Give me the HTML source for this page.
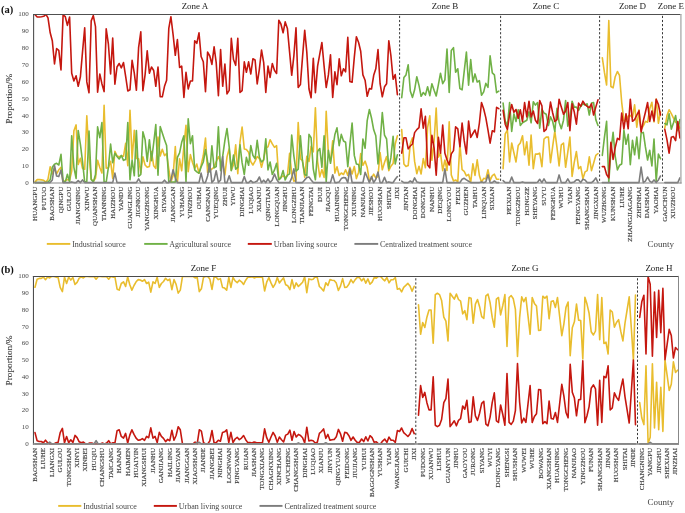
<!DOCTYPE html>
<html><head><meta charset="utf-8"><title>chart</title>
<style>html,body{margin:0;padding:0;background:#fff}body{width:685px;height:513px;overflow:hidden;font-family:"Liberation Serif",serif}</style></head>
<body>
<svg width="685" height="513" viewBox="0 0 685 513" style="display:block;will-change:transform" font-family="'Liberation Serif', serif">
<rect width="685" height="513" fill="#fff"/>
<clipPath id="cpa"><rect x="33.0" y="14.00" width="649.0" height="171.6"/></clipPath>
<g fill="none" stroke-width="1.6" stroke-linejoin="round" stroke-linecap="round" clip-path="url(#cpa)">
<polyline stroke="#E9BD2E" points="35.1,181.9 37.2,179.6 39.4,179.6 41.5,179.9 43.7,180.3 45.9,182.2 48.0,179.2 50.2,166.7 52.3,173.9 54.5,168.1 56.6,173.9 58.8,169.8 61.0,167.3 63.1,182.3 65.3,180.5 67.4,179.6 69.6,180.1 71.7,171.0 73.9,130.7 76.1,124.9 78.2,164.4 80.4,158.3 82.5,168.4 84.7,169.2 86.8,115.8 89.0,155.3 91.2,178.9 93.3,181.5 95.5,178.1 97.6,160.2 99.8,167.5 101.9,173.0 104.1,105.2 106.2,168.2 108.4,167.8 110.6,161.2 112.7,178.5 114.9,151.3 117.0,155.9 119.2,156.8 121.3,155.9 123.5,156.3 125.7,143.2 127.8,165.6 130.0,110.3 132.1,158.9 134.3,130.3 136.4,158.4 138.6,158.7 140.8,172.8 142.9,156.8 145.1,165.0 147.2,167.2 149.4,166.4 151.5,151.5 153.7,165.8 155.8,168.4 158.0,137.1 160.2,155.9 162.3,149.3 164.5,155.6 166.6,153.5 168.8,169.1 170.9,182.3 173.1,175.4 175.3,146.5 177.4,182.3 179.6,158.9 181.7,170.8 183.9,146.1 186.0,125.2 188.2,171.7 190.4,154.6 192.5,162.5 194.7,168.7 196.8,164.1 199.0,173.3 201.1,165.3 203.3,155.5 205.5,138.1 207.6,172.4 209.8,170.5 211.9,169.0 214.1,167.1 216.2,161.8 218.4,156.7 220.6,161.8 222.7,162.8 224.9,174.9 227.0,156.9 229.2,148.8 231.3,170.3 233.5,164.7 235.7,144.8 237.8,173.6 240.0,141.9 242.1,127.0 244.3,148.9 246.4,149.6 248.6,152.2 250.8,161.6 252.9,165.0 255.1,161.2 257.2,156.5 259.4,158.6 261.5,167.2 263.7,158.9 265.8,148.0 268.0,146.9 270.1,139.7 272.3,143.9 274.5,147.4 276.6,145.7 278.8,179.3 280.9,177.4 283.1,175.9 285.2,177.3 287.4,175.7 289.6,153.3 291.7,173.5 293.9,181.3 296.0,180.1 298.2,122.5 300.4,158.9 302.5,160.5 304.7,177.2 306.8,156.3 309.0,161.4 311.1,146.4 313.3,151.8 315.4,107.9 317.6,161.6 319.8,176.9 321.9,169.5 324.1,177.4 326.2,111.3 328.4,154.2 330.5,161.2 332.7,140.9 334.9,173.1 337.0,166.8 339.2,175.5 341.3,173.0 343.5,174.5 345.6,169.8 347.8,175.4 349.9,167.2 352.1,174.0 354.3,166.4 356.4,178.6 358.6,172.2 360.7,153.5 362.9,165.3 365.1,161.1 367.2,167.6 369.4,181.2 371.5,178.2 373.7,174.2 375.8,178.0 378.0,176.3 380.1,152.6 382.3,169.8 384.5,162.6 386.6,156.5 388.8,170.6 390.9,166.2 393.1,163.6 395.2,144.0 397.4,135.8"/>
<polyline stroke="#E9BD2E" points="401.7,129.6 403.9,163.9 406.0,166.5 408.2,165.6 410.3,143.8 412.5,137.9 414.6,161.4 416.8,173.7 419.0,166.2 421.1,174.0 423.3,158.6 425.4,167.7 427.6,127.4 429.8,115.8 431.9,160.3 434.1,140.9 436.2,108.1 438.4,157.2 440.5,152.9 442.7,170.6 444.9,160.0 447.0,170.5 449.2,121.8 451.3,175.0 453.5,180.9 455.6,180.0 457.8,181.6 459.9,144.0 462.1,169.7 464.2,171.3 466.4,175.9 468.6,174.4 470.7,182.3 472.9,163.7 475.0,175.4 477.2,159.8 479.4,175.5 481.5,182.2 483.7,178.3 485.8,179.0 488.0,169.8 490.1,180.3 492.3,175.7 494.4,174.2 496.6,179.3 498.8,179.3"/>
<polyline stroke="#E9BD2E" points="503.1,168.6 505.2,133.8 507.4,130.1 509.6,162.0 511.7,143.0 513.9,152.8 516.0,162.0 518.2,145.6 520.3,143.0 522.5,135.7 524.6,154.8 526.8,141.7 529.0,165.3 531.1,135.1 533.3,168.6 535.4,154.1 537.6,154.1 539.7,153.2 541.9,166.6 544.0,139.0 546.2,137.1 548.4,137.1 550.5,162.7 552.7,146.2 554.8,131.1 557.0,147.6 559.1,166.0 561.3,144.9 563.5,143.0 565.6,167.3 567.8,152.2 569.9,137.1 572.1,176.5 574.2,162.7 576.4,151.5 578.6,168.6 580.7,166.6 582.9,178.7 585.0,171.9 587.2,170.6 589.3,156.8 591.5,170.6 593.6,163.3 595.8,155.4 598.0,153.5"/>
<polyline stroke="#E9BD2E" points="602.3,57.7 604.4,72.2 606.6,85.0 608.8,20.6 610.9,86.5 613.1,87.8 615.2,76.7 617.4,71.5 619.5,75.4 621.7,102.3 623.9,120.4 626.0,121.3 628.2,116.1 630.3,115.4 632.5,117.6 634.6,104.9 636.8,127.2 639.0,109.8 641.1,129.6 643.3,125.9 645.4,121.3 647.6,122.2 649.7,108.8 651.9,102.3 654.0,122.0 656.2,99.0 658.4,123.3 660.5,112.1"/>
<polyline stroke="#E9BD2E" points="664.8,128.1 667.0,115.6 669.1,109.7 671.3,113.7 673.5,118.2 675.6,122.2 677.8,123.5 679.9,128.1"/>
<polyline stroke="#70B146" points="35.1,182.6 37.2,182.6 39.4,182.6 41.5,182.6 43.7,182.6 45.9,182.6 48.0,182.1 50.2,179.8 52.3,167.3 54.5,164.2 56.6,163.3 58.8,165.0 61.0,154.4 63.1,181.3 65.3,182.1 67.4,174.2 69.6,182.1 71.7,135.7 73.9,167.3 76.1,178.4 78.2,130.5 80.4,144.3 82.5,161.4 84.7,182.1 86.8,181.5 89.0,131.1 91.2,179.5 93.3,182.1 95.5,174.5 97.6,126.9 99.8,137.7 101.9,122.6 104.1,182.1 106.2,182.1 108.4,167.3 110.6,144.0 112.7,162.7 114.9,153.2 117.0,156.4 119.2,159.0 121.3,155.4 123.5,160.3 125.7,159.4 127.8,122.6 130.0,179.8 132.1,160.0 134.3,175.8 136.4,130.5 138.6,176.5 140.8,174.5 142.9,131.8 145.1,139.7 147.2,161.4 149.4,139.7 151.5,160.7 153.7,143.0 155.8,124.6 158.0,175.2 160.2,126.5 162.3,133.1 164.5,139.7 166.6,145.6 168.8,181.7 170.9,182.1 173.1,182.1 175.3,182.1 177.4,157.4 179.6,152.8 181.7,142.3 183.9,135.7 186.0,181.7 188.2,118.7 190.4,143.6 192.5,135.7 194.7,169.9 196.8,171.9 199.0,173.2 201.1,166.9 203.3,162.0 205.5,149.5 207.6,161.4 209.8,171.9 211.9,145.8 214.1,167.9 216.2,166.6 218.4,126.9 220.6,170.6 222.7,156.1 224.9,140.3 227.0,128.5 229.2,146.9 231.3,170.6 233.5,155.1 235.7,169.2 237.8,167.3 240.0,144.9 242.1,162.7 244.3,174.5 246.4,157.4 248.6,165.3 250.8,145.6 252.9,155.4 255.1,158.7 257.2,140.3 259.4,157.4 261.5,162.0 263.7,160.0 265.8,138.8 268.0,169.9 270.1,162.0 272.3,174.5 274.5,169.9 276.6,163.3 278.8,179.8 280.9,177.8 283.1,170.6 285.2,180.0 287.4,175.2 289.6,173.8 291.7,135.1 293.9,156.1 296.0,171.2 298.2,169.2 300.4,135.7 302.5,161.4 304.7,174.5 306.8,175.8 309.0,134.4 311.1,137.7 313.3,169.2 315.4,179.8 317.6,151.5 319.8,148.5 321.9,167.3 324.1,135.7 326.2,181.7 328.4,150.2 330.5,163.3 332.7,148.9 334.9,134.4 337.0,127.8 339.2,145.6 341.3,134.4 343.5,141.0 345.6,142.3 347.8,166.6 349.9,144.3 352.1,123.0 354.3,155.4 356.4,164.0 358.6,164.6 360.7,174.5 362.9,139.0 365.1,148.2 367.2,120.6 369.4,109.5 371.5,118.0 373.7,129.8 375.8,135.7 378.0,164.0 380.1,143.0 382.3,112.6 384.5,135.1 386.6,139.0 388.8,168.6 390.9,157.4 393.1,136.4 395.2,164.0 397.4,154.8"/>
<polyline stroke="#70B146" points="401.7,97.7 403.9,77.5 406.0,74.9 408.2,64.7 410.3,91.0 412.5,97.4 414.6,89.8 416.8,76.7 419.0,85.4 421.1,96.3 423.3,92.5 425.4,95.1 427.6,86.8 429.8,95.6 431.9,83.7 434.1,90.3 436.2,96.0 438.4,84.6 440.5,73.2 442.7,83.7 444.9,79.8 447.0,49.0 449.2,92.5 451.3,50.4 453.5,47.7 455.6,72.3 457.8,68.8 459.9,88.6 462.1,89.8 464.2,71.4 466.4,52.1 468.6,85.1 470.7,59.5 472.9,82.0 475.0,73.9 477.2,82.0 479.4,80.7 481.5,95.2 483.7,91.9 485.8,83.4 488.0,87.3 490.1,55.8 492.3,72.8 494.4,74.8 496.6,92.6 498.8,91.2"/>
<polyline stroke="#70B146" points="503.1,103.1 505.2,120.9 507.4,126.1 509.6,102.5 511.7,131.4 513.9,113.7 516.0,121.5 518.2,109.7 520.3,125.5 522.5,122.8 524.6,121.5 526.8,120.2 529.0,111.7 531.1,122.8 533.3,101.8 535.4,105.1 537.6,102.5 539.7,128.1 541.9,109.0 544.0,113.0 546.2,114.3 548.4,125.5 550.5,116.9 552.7,121.5 554.8,131.4 557.0,108.4 559.1,122.2 561.3,128.8 563.5,120.2 565.6,100.5 567.8,126.1 569.9,118.2 572.1,101.2 574.2,107.1 576.4,107.1 578.6,110.4 580.7,106.4 582.9,103.8 585.0,105.1 587.2,103.8 589.3,115.0 591.5,103.1 593.6,102.5 595.8,119.6 598.0,125.5"/>
<polyline stroke="#70B146" points="602.3,155.4 604.4,137.7 606.6,121.3 608.8,182.4 610.9,150.8 613.1,132.4 615.2,156.1 617.4,169.9 619.5,165.3 621.7,164.0 623.9,130.1 626.0,144.3 628.2,134.4 630.3,164.6 632.5,140.3 634.6,154.8 636.8,137.1 639.0,158.7 641.1,133.1 643.3,132.4 645.4,146.9 647.6,160.0 649.7,150.2 651.9,166.0 654.0,139.0 656.2,181.1 658.4,154.1 660.5,158.7"/>
<polyline stroke="#70B146" points="664.8,123.5 667.0,124.8 669.1,113.7 671.3,129.2 673.5,122.8 675.6,115.6 677.8,130.7 679.9,119.6"/>
<polyline stroke="#C5170F" points="35.1,14.7 37.2,17.0 39.4,17.0 41.5,16.7 43.7,16.3 45.9,14.4 48.0,17.9 50.2,32.8 52.3,40.7 54.5,64.0 56.6,48.6 58.8,50.4 61.0,70.0 63.1,14.9 65.3,16.7 67.4,25.4 69.6,17.0 71.7,73.2 73.9,81.0 76.1,75.8 78.2,86.3 80.4,76.7 82.5,52.1 84.7,27.9 86.8,81.9 89.0,92.8 91.2,20.9 93.3,15.6 95.5,26.7 97.6,92.1 99.8,74.0 101.9,83.7 104.1,91.6 106.2,28.9 108.4,44.2 110.6,74.0 112.7,38.1 114.9,84.2 117.0,67.0 119.2,63.5 121.3,67.9 123.5,62.6 125.7,76.7 127.8,91.0 130.0,89.8 132.1,60.4 134.3,73.2 136.4,90.3 138.6,47.7 140.8,31.9 142.9,90.7 145.1,74.6 147.2,50.7 149.4,73.2 151.5,67.0 153.7,70.5 155.8,86.3 158.0,67.0 160.2,96.8 162.3,96.8 164.5,86.3 166.6,80.2 168.8,28.4 170.9,16.7 173.1,34.6 175.3,55.3 177.4,39.5 179.6,67.5 181.7,66.1 183.9,97.4 186.0,72.3 188.2,89.0 190.4,81.0 192.5,81.0 194.7,40.7 196.8,43.3 199.0,32.8 201.1,56.5 203.3,61.8 205.5,91.6 207.6,52.1 209.8,56.0 211.9,64.4 214.1,46.8 216.2,62.6 218.4,95.6 220.6,49.5 222.7,86.3 224.9,64.0 227.0,93.9 229.2,90.3 231.3,38.4 233.5,59.5 235.7,65.3 237.8,38.4 240.0,92.5 242.1,90.7 244.3,61.8 246.4,72.3 248.6,61.8 250.8,74.0 252.9,58.8 255.1,60.0 257.2,84.0 259.4,68.8 261.5,50.0 263.7,62.6 265.8,92.5 268.0,66.1 270.1,77.5 272.3,63.5 274.5,70.5 276.6,73.5 278.8,20.2 280.9,24.0 283.1,32.8 285.2,21.9 287.4,28.4 289.6,52.1 291.7,75.3 293.9,55.6 296.0,27.9 298.2,87.5 300.4,84.6 302.5,57.4 304.7,30.2 306.8,52.1 309.0,89.0 311.1,97.7 313.3,58.2 315.4,92.8 317.6,66.1 319.8,53.9 321.9,42.5 324.1,66.1 326.2,87.5 328.4,74.9 330.5,54.7 332.7,97.4 334.9,71.8 337.0,84.6 339.2,58.8 341.3,75.8 343.5,68.8 345.6,71.8 347.8,37.2 349.9,81.6 352.1,82.3 354.3,57.4 356.4,36.7 358.6,42.5 360.7,51.2 362.9,74.9 365.1,80.2 367.2,96.3 369.4,88.6 371.5,89.0 373.7,75.3 375.8,68.8 378.0,49.5 380.1,83.7 382.3,96.8 384.5,86.8 386.6,83.7 388.8,40.7 390.9,55.6 393.1,79.3 395.2,74.6 397.4,94.6"/>
<polyline stroke="#C5170F" points="401.7,153.2 403.9,137.8 406.0,137.8 408.2,148.9 410.3,146.0 412.5,144.0 414.6,132.6 416.8,129.6 419.0,127.6 421.1,108.9 423.3,128.2 425.4,116.4 427.6,165.0 429.8,167.8 431.9,135.2 434.1,148.0 436.2,175.2 438.4,137.4 440.5,153.2 442.7,125.0 444.9,153.2 447.0,159.8 449.2,165.0 451.3,153.9 453.5,150.6 455.6,126.9 457.8,128.9 459.9,146.6 462.1,123.0 464.2,140.7 466.4,153.9 468.6,121.0 470.7,137.4 472.9,133.5 475.0,130.0 477.2,137.4 479.4,123.0 481.5,102.5 483.7,109.0 485.8,117.6 488.0,130.1 490.1,143.2 492.3,130.7 494.4,131.8 496.6,107.3 498.8,108.7"/>
<polyline stroke="#C5170F" points="503.1,110.4 505.2,124.2 507.4,129.4 509.6,114.3 511.7,104.5 513.9,112.3 516.0,109.5 518.2,118.2 520.3,109.7 522.5,121.5 524.6,102.5 526.8,116.9 529.0,101.2 531.1,116.9 533.3,111.0 535.4,120.2 537.6,123.5 539.7,100.5 541.9,105.8 544.0,131.4 546.2,129.4 548.4,118.2 550.5,102.1 552.7,113.0 554.8,121.5 557.0,119.6 559.1,99.2 561.3,107.1 563.5,114.3 565.6,111.0 567.8,102.5 569.9,130.7 572.1,103.8 574.2,111.7 576.4,124.2 578.6,103.1 580.7,106.4 582.9,101.2 585.0,104.5 587.2,106.4 589.3,107.7 591.5,103.8 593.6,115.0 595.8,107.1 598.0,99.8"/>
<polyline stroke="#C5170F" points="602.3,166.6 604.4,166.6 606.6,174.5 608.8,177.8 610.9,142.3 613.1,159.4 615.2,147.6 617.4,138.4 619.5,139.7 621.7,113.0 623.9,128.8 626.0,113.7 628.2,128.8 630.3,99.2 632.5,121.3 634.6,119.6 636.8,115.0 639.0,110.8 641.1,132.0 643.3,120.9 645.4,112.3 647.6,102.5 649.7,121.5 651.9,111.0 654.0,120.9 656.2,99.2 658.4,104.5 660.5,115.0"/>
<polyline stroke="#C5170F" points="664.8,129.4 667.0,139.9 669.1,153.1 671.3,137.3 673.5,136.6 675.6,140.6 677.8,121.5 679.9,138.0"/>
<polyline stroke="#7d7d7d" points="35.1,182.6 37.2,182.6 39.4,182.6 41.5,182.6 43.7,182.6 45.9,182.6 48.0,182.6 50.2,182.6 52.3,179.9 54.5,165.5 56.6,176.0 58.8,176.6 61.0,170.1 63.1,182.6 65.3,182.6 67.4,182.6 69.6,182.6 71.7,181.9 73.9,182.6 76.1,182.6 78.2,180.6 80.4,182.6 82.5,179.9 84.7,182.6 86.8,182.6 89.0,182.6 91.2,182.6 93.3,182.6 95.5,182.6 97.6,182.6 99.8,182.6 101.9,182.6 104.1,182.6 106.2,182.6 108.4,182.6 110.6,182.6 112.7,182.6 114.9,173.1 117.0,182.6 119.2,182.6 121.3,182.6 123.5,182.6 125.7,182.6 127.8,182.6 130.0,182.6 132.1,182.6 134.3,182.6 136.4,182.6 138.6,178.9 140.8,182.6 142.9,182.6 145.1,182.6 147.2,182.6 149.4,182.6 151.5,182.6 153.7,182.6 155.8,182.6 158.0,182.6 160.2,182.6 162.3,182.6 164.5,180.2 166.6,182.6 168.8,182.6 170.9,179.9 173.1,169.7 175.3,177.9 177.4,182.6 179.6,182.6 181.7,182.6 183.9,182.6 186.0,182.6 188.2,182.6 190.4,182.6 192.5,182.6 194.7,182.6 196.8,182.6 199.0,182.6 201.1,173.1 203.3,182.6 205.5,182.6 207.6,176.0 209.8,163.5 211.9,182.6 214.1,179.9 216.2,170.7 218.4,182.6 220.6,179.9 222.7,156.5 224.9,182.6 227.0,182.6 229.2,175.7 231.3,182.6 233.5,182.6 235.7,182.6 237.8,182.6 240.0,182.6 242.1,182.6 244.3,176.6 246.4,182.6 248.6,182.6 250.8,180.6 252.9,182.6 255.1,181.9 257.2,181.0 259.4,177.0 261.5,182.6 263.7,180.2 265.8,182.6 268.0,178.9 270.1,182.6 272.3,179.9 274.5,174.0 276.6,179.3 278.8,182.6 280.9,182.6 283.1,182.6 285.2,182.6 287.4,182.6 289.6,182.6 291.7,177.9 293.9,168.8 296.0,182.6 298.2,182.6 300.4,182.6 302.5,182.6 304.7,179.9 306.8,177.6 309.0,177.0 311.1,179.9 313.3,182.6 315.4,182.6 317.6,182.6 319.8,182.6 321.9,182.6 324.1,182.6 326.2,182.6 328.4,182.6 330.5,182.6 332.7,174.7 334.9,182.6 337.0,182.6 339.2,181.9 341.3,178.6 343.5,177.6 345.6,177.9 347.8,182.6 349.9,168.8 352.1,182.6 354.3,182.6 356.4,182.6 358.6,182.6 360.7,182.6 362.9,182.6 365.1,172.3 367.2,177.3 369.4,182.6 371.5,176.6 373.7,182.6 375.8,179.3 378.0,172.0 380.1,182.6 382.3,182.6 384.5,177.3 386.6,182.6 388.8,181.9 390.9,182.6 393.1,182.6 395.2,179.3 397.4,176.6"/>
<polyline stroke="#7d7d7d" points="401.7,181.2 403.9,182.6 406.0,182.6 408.2,182.6 410.3,181.0 412.5,182.6 414.6,177.9 416.8,181.9 419.0,182.6 421.1,182.6 423.3,182.6 425.4,182.6 427.6,182.6 429.8,182.6 431.9,182.6 434.1,182.6 436.2,182.6 438.4,182.6 440.5,182.6 442.7,182.6 444.9,168.8 447.0,182.6 449.2,182.6 451.3,182.6 453.5,182.6 455.6,182.6 457.8,182.6 459.9,182.6 462.1,179.3 464.2,178.3 466.4,179.9 468.6,181.2 470.7,182.6 472.9,182.6 475.0,182.6 477.2,182.6 479.4,182.6 481.5,181.9 483.7,182.6 485.8,181.9 488.0,174.7 490.1,182.6 492.3,182.6 494.4,181.0 496.6,182.6 498.8,182.6"/>
<polyline stroke="#7d7d7d" points="503.1,180.6 505.2,182.6 507.4,182.6 509.6,182.6 511.7,177.0 513.9,182.6 516.0,182.6 518.2,182.6 520.3,182.6 522.5,181.9 524.6,182.6 526.8,182.6 529.0,182.6 531.1,182.6 533.3,182.6 535.4,182.6 537.6,182.3 539.7,179.3 541.9,182.6 544.0,178.9 546.2,182.6 548.4,182.6 550.5,182.6 552.7,182.6 554.8,182.6 557.0,182.6 559.1,174.9 561.3,182.6 563.5,182.6 565.6,182.6 567.8,178.9 569.9,182.6 572.1,182.6 574.2,181.9 576.4,179.9 578.6,179.9 580.7,182.6 582.9,179.3 585.0,179.9 587.2,182.6 589.3,182.6 591.5,182.6 593.6,181.0 595.8,177.9 598.0,182.6"/>
<polyline stroke="#7d7d7d" points="602.3,182.6 604.4,182.6 606.6,182.6 608.8,182.6 610.9,182.6 613.1,182.6 615.2,182.6 617.4,182.6 619.5,182.6 621.7,182.6 623.9,182.6 626.0,182.6 628.2,182.6 630.3,182.6 632.5,182.6 634.6,182.6 636.8,182.6 639.0,182.6 641.1,167.1 643.3,182.6 645.4,181.2 647.6,177.0 649.7,181.2 651.9,182.6 654.0,179.9 656.2,182.6 658.4,179.9 660.5,176.0"/>
<polyline stroke="#7d7d7d" points="664.8,182.6 667.0,182.6 669.1,182.6 671.3,182.6 673.5,182.6 675.6,182.6 677.8,182.6 679.9,177.9"/>
</g>
<path d="M33.05 14.50 H681.20" stroke="#505050" stroke-width="1.00" fill="none"/>
<path d="M680.90 14.00 V183.50" stroke="#b4b4b4" stroke-width="1.50" fill="none"/>
<path d="M33.60 14.00 V183.50" stroke="#505050" stroke-width="1.10" fill="none"/>
<path d="M33.05 182.95 H681.65" stroke="#8a8a8a" stroke-width="1.10" fill="none"/>
<path d="M399.6 15.85 V182.6" stroke="#2e2e2e" stroke-width="0.95" stroke-dasharray="2.2 1.87" fill="none"/>
<path d="M500.6 15.85 V182.6" stroke="#2e2e2e" stroke-width="0.95" stroke-dasharray="2.2 1.87" fill="none"/>
<path d="M599.6 15.85 V182.6" stroke="#2e2e2e" stroke-width="0.95" stroke-dasharray="2.2 1.87" fill="none"/>
<path d="M662.5 15.85 V182.6" stroke="#2e2e2e" stroke-width="0.95" stroke-dasharray="2.2 1.87" fill="none"/>
<text x="28.8" y="185.0" font-size="7" fill="#474747" text-anchor="end">0</text>
<text x="28.8" y="168.1" font-size="7" fill="#474747" text-anchor="end">10</text>
<text x="28.8" y="151.3" font-size="7" fill="#474747" text-anchor="end">20</text>
<text x="28.8" y="134.4" font-size="7" fill="#474747" text-anchor="end">30</text>
<text x="28.8" y="117.6" font-size="7" fill="#474747" text-anchor="end">40</text>
<text x="28.8" y="100.7" font-size="7" fill="#474747" text-anchor="end">50</text>
<text x="28.8" y="83.8" font-size="7" fill="#474747" text-anchor="end">60</text>
<text x="28.8" y="67.0" font-size="7" fill="#474747" text-anchor="end">70</text>
<text x="28.8" y="50.1" font-size="7" fill="#474747" text-anchor="end">80</text>
<text x="28.8" y="33.3" font-size="7" fill="#474747" text-anchor="end">90</text>
<text x="28.8" y="16.4" font-size="7" fill="#474747" text-anchor="end">100</text>
<text transform="translate(12.0 98.8) rotate(-90)" font-size="9.25" fill="#3c3c3c" stroke="#3c3c3c" stroke-width="0.12" text-anchor="middle">Proportion/%</text>
<text transform="translate(36.9 186.8) rotate(-90)" font-size="7" fill="#474747" stroke="#474747" stroke-width="0.16" text-anchor="end">HUANGPU</text>
<text transform="translate(45.6 186.8) rotate(-90)" font-size="7" fill="#474747" stroke="#474747" stroke-width="0.16" text-anchor="end">PUTUO</text>
<text transform="translate(54.2 186.8) rotate(-90)" font-size="7" fill="#474747" stroke="#474747" stroke-width="0.16" text-anchor="end">BAOSHAN</text>
<text transform="translate(62.8 186.8) rotate(-90)" font-size="7" fill="#474747" stroke="#474747" stroke-width="0.16" text-anchor="end">QINGPU</text>
<text transform="translate(71.4 186.8) rotate(-90)" font-size="7" fill="#474747" stroke="#474747" stroke-width="0.16" text-anchor="end">GULOU</text>
<text transform="translate(80.1 186.8) rotate(-90)" font-size="7" fill="#474747" stroke="#474747" stroke-width="0.16" text-anchor="end">JIANGNING</text>
<text transform="translate(88.7 186.8) rotate(-90)" font-size="7" fill="#474747" stroke="#474747" stroke-width="0.16" text-anchor="end">XINWU</text>
<text transform="translate(97.3 186.8) rotate(-90)" font-size="7" fill="#474747" stroke="#474747" stroke-width="0.16" text-anchor="end">QUANSHAN</text>
<text transform="translate(105.9 186.8) rotate(-90)" font-size="7" fill="#474747" stroke="#474747" stroke-width="0.16" text-anchor="end">TIANNING</text>
<text transform="translate(114.6 186.8) rotate(-90)" font-size="7" fill="#474747" stroke="#474747" stroke-width="0.16" text-anchor="end">HAIZHOU</text>
<text transform="translate(123.2 186.8) rotate(-90)" font-size="7" fill="#474747" stroke="#474747" stroke-width="0.16" text-anchor="end">YANDU</text>
<text transform="translate(131.8 186.8) rotate(-90)" font-size="7" fill="#474747" stroke="#474747" stroke-width="0.16" text-anchor="end">GUANGLING</text>
<text transform="translate(140.4 186.8) rotate(-90)" font-size="7" fill="#474747" stroke="#474747" stroke-width="0.16" text-anchor="end">JIGNKOU</text>
<text transform="translate(149.1 186.8) rotate(-90)" font-size="7" fill="#474747" stroke="#474747" stroke-width="0.16" text-anchor="end">YANGZHONG</text>
<text transform="translate(157.7 186.8) rotate(-90)" font-size="7" fill="#474747" stroke="#474747" stroke-width="0.16" text-anchor="end">XINGHUA</text>
<text transform="translate(166.3 186.8) rotate(-90)" font-size="7" fill="#474747" stroke="#474747" stroke-width="0.16" text-anchor="end">SIYANG</text>
<text transform="translate(175.0 186.8) rotate(-90)" font-size="7" fill="#474747" stroke="#474747" stroke-width="0.16" text-anchor="end">JIANGGAN</text>
<text transform="translate(183.6 186.8) rotate(-90)" font-size="7" fill="#474747" stroke="#474747" stroke-width="0.16" text-anchor="end">YUHANG</text>
<text transform="translate(192.2 186.8) rotate(-90)" font-size="7" fill="#474747" stroke="#474747" stroke-width="0.16" text-anchor="end">YINZHOU</text>
<text transform="translate(200.8 186.8) rotate(-90)" font-size="7" fill="#474747" stroke="#474747" stroke-width="0.16" text-anchor="end">OUHAI</text>
<text transform="translate(209.5 186.8) rotate(-90)" font-size="7" fill="#474747" stroke="#474747" stroke-width="0.16" text-anchor="end">CANGNAN</text>
<text transform="translate(218.1 186.8) rotate(-90)" font-size="7" fill="#474747" stroke="#474747" stroke-width="0.16" text-anchor="end">YUEQING</text>
<text transform="translate(226.7 186.8) rotate(-90)" font-size="7" fill="#474747" stroke="#474747" stroke-width="0.16" text-anchor="end">ZHUJI</text>
<text transform="translate(235.3 186.8) rotate(-90)" font-size="7" fill="#474747" stroke="#474747" stroke-width="0.16" text-anchor="end">YIWU</text>
<text transform="translate(244.0 186.8) rotate(-90)" font-size="7" fill="#474747" stroke="#474747" stroke-width="0.16" text-anchor="end">DINGHAI</text>
<text transform="translate(252.6 186.8) rotate(-90)" font-size="7" fill="#474747" stroke="#474747" stroke-width="0.16" text-anchor="end">LUQIAO</text>
<text transform="translate(261.2 186.8) rotate(-90)" font-size="7" fill="#474747" stroke="#474747" stroke-width="0.16" text-anchor="end">XIANJU</text>
<text transform="translate(269.8 186.8) rotate(-90)" font-size="7" fill="#474747" stroke="#474747" stroke-width="0.16" text-anchor="end">QINGTIAN</text>
<text transform="translate(278.5 186.8) rotate(-90)" font-size="7" fill="#474747" stroke="#474747" stroke-width="0.16" text-anchor="end">LONGQUAN</text>
<text transform="translate(287.1 186.8) rotate(-90)" font-size="7" fill="#474747" stroke="#474747" stroke-width="0.16" text-anchor="end">JINGHU</text>
<text transform="translate(295.7 186.8) rotate(-90)" font-size="7" fill="#474747" stroke="#474747" stroke-width="0.16" text-anchor="end">LONGZIHU</text>
<text transform="translate(304.4 186.8) rotate(-90)" font-size="7" fill="#474747" stroke="#474747" stroke-width="0.16" text-anchor="end">TIANJIAAN</text>
<text transform="translate(313.0 186.8) rotate(-90)" font-size="7" fill="#474747" stroke="#474747" stroke-width="0.16" text-anchor="end">FENGTAI</text>
<text transform="translate(321.6 186.8) rotate(-90)" font-size="7" fill="#474747" stroke="#474747" stroke-width="0.16" text-anchor="end">DUJI</text>
<text transform="translate(330.2 186.8) rotate(-90)" font-size="7" fill="#474747" stroke="#474747" stroke-width="0.16" text-anchor="end">JIAOQU</text>
<text transform="translate(338.9 186.8) rotate(-90)" font-size="7" fill="#474747" stroke="#474747" stroke-width="0.16" text-anchor="end">HUAINING</text>
<text transform="translate(347.5 186.8) rotate(-90)" font-size="7" fill="#474747" stroke="#474747" stroke-width="0.16" text-anchor="end">TONGCHENG</text>
<text transform="translate(356.1 186.8) rotate(-90)" font-size="7" fill="#474747" stroke="#474747" stroke-width="0.16" text-anchor="end">XIUNING</text>
<text transform="translate(364.7 186.8) rotate(-90)" font-size="7" fill="#474747" stroke="#474747" stroke-width="0.16" text-anchor="end">NANJIAO</text>
<text transform="translate(373.4 186.8) rotate(-90)" font-size="7" fill="#474747" stroke="#474747" stroke-width="0.16" text-anchor="end">JIESHOU</text>
<text transform="translate(382.0 186.8) rotate(-90)" font-size="7" fill="#474747" stroke="#474747" stroke-width="0.16" text-anchor="end">HUOSHAN</text>
<text transform="translate(390.6 186.8) rotate(-90)" font-size="7" fill="#474747" stroke="#474747" stroke-width="0.16" text-anchor="end">SHITAI</text>
<text transform="translate(399.2 186.8) rotate(-90)" font-size="7" fill="#474747" stroke="#474747" stroke-width="0.16" text-anchor="end">JIXI</text>
<text transform="translate(407.9 186.8) rotate(-90)" font-size="7" fill="#474747" stroke="#474747" stroke-width="0.16" text-anchor="end">JINTAN</text>
<text transform="translate(416.5 186.8) rotate(-90)" font-size="7" fill="#474747" stroke="#474747" stroke-width="0.16" text-anchor="end">DONGHAI</text>
<text transform="translate(425.1 186.8) rotate(-90)" font-size="7" fill="#474747" stroke="#474747" stroke-width="0.16" text-anchor="end">DONGTAI</text>
<text transform="translate(433.8 186.8) rotate(-90)" font-size="7" fill="#474747" stroke="#474747" stroke-width="0.16" text-anchor="end">NANHU</text>
<text transform="translate(442.4 186.8) rotate(-90)" font-size="7" fill="#474747" stroke="#474747" stroke-width="0.16" text-anchor="end">DEQING</text>
<text transform="translate(451.0 186.8) rotate(-90)" font-size="7" fill="#474747" stroke="#474747" stroke-width="0.16" text-anchor="end">LONGYOU</text>
<text transform="translate(459.6 186.8) rotate(-90)" font-size="7" fill="#474747" stroke="#474747" stroke-width="0.16" text-anchor="end">FEIXI</text>
<text transform="translate(468.3 186.8) rotate(-90)" font-size="7" fill="#474747" stroke="#474747" stroke-width="0.16" text-anchor="end">GUZHEN</text>
<text transform="translate(476.9 186.8) rotate(-90)" font-size="7" fill="#474747" stroke="#474747" stroke-width="0.16" text-anchor="end">TAIHU</text>
<text transform="translate(485.5 186.8) rotate(-90)" font-size="7" fill="#474747" stroke="#474747" stroke-width="0.16" text-anchor="end">LINQUAN</text>
<text transform="translate(494.1 186.8) rotate(-90)" font-size="7" fill="#474747" stroke="#474747" stroke-width="0.16" text-anchor="end">SIXIAN</text>
<text transform="translate(511.4 186.8) rotate(-90)" font-size="7" fill="#474747" stroke="#474747" stroke-width="0.16" text-anchor="end">PEIXIAN</text>
<text transform="translate(520.0 186.8) rotate(-90)" font-size="7" fill="#474747" stroke="#474747" stroke-width="0.16" text-anchor="end">TONGZHOU</text>
<text transform="translate(528.6 186.8) rotate(-90)" font-size="7" fill="#474747" stroke="#474747" stroke-width="0.16" text-anchor="end">HONGZE</text>
<text transform="translate(537.3 186.8) rotate(-90)" font-size="7" fill="#474747" stroke="#474747" stroke-width="0.16" text-anchor="end">SHEYANG</text>
<text transform="translate(545.9 186.8) rotate(-90)" font-size="7" fill="#474747" stroke="#474747" stroke-width="0.16" text-anchor="end">SUYU</text>
<text transform="translate(554.5 186.8) rotate(-90)" font-size="7" fill="#474747" stroke="#474747" stroke-width="0.16" text-anchor="end">FENGHUA</text>
<text transform="translate(563.2 186.8) rotate(-90)" font-size="7" fill="#474747" stroke="#474747" stroke-width="0.16" text-anchor="end">WUHU</text>
<text transform="translate(571.8 186.8) rotate(-90)" font-size="7" fill="#474747" stroke="#474747" stroke-width="0.16" text-anchor="end">YIAN</text>
<text transform="translate(580.4 186.8) rotate(-90)" font-size="7" fill="#474747" stroke="#474747" stroke-width="0.16" text-anchor="end">FENGYANG</text>
<text transform="translate(589.0 186.8) rotate(-90)" font-size="7" fill="#474747" stroke="#474747" stroke-width="0.16" text-anchor="end">SHANGSHAN</text>
<text transform="translate(597.7 186.8) rotate(-90)" font-size="7" fill="#474747" stroke="#474747" stroke-width="0.16" text-anchor="end">JINGXIAN</text>
<text transform="translate(606.3 186.8) rotate(-90)" font-size="7" fill="#474747" stroke="#474747" stroke-width="0.16" text-anchor="end">WUZHONG</text>
<text transform="translate(614.9 186.8) rotate(-90)" font-size="7" fill="#474747" stroke="#474747" stroke-width="0.16" text-anchor="end">KUNSHAN</text>
<text transform="translate(623.5 186.8) rotate(-90)" font-size="7" fill="#474747" stroke="#474747" stroke-width="0.16" text-anchor="end">LIUHE</text>
<text transform="translate(632.2 186.8) rotate(-90)" font-size="7" fill="#474747" stroke="#474747" stroke-width="0.16" text-anchor="end">ZHANGJIAGANG</text>
<text transform="translate(640.8 186.8) rotate(-90)" font-size="7" fill="#474747" stroke="#474747" stroke-width="0.16" text-anchor="end">ZHENHAI</text>
<text transform="translate(649.4 186.8) rotate(-90)" font-size="7" fill="#474747" stroke="#474747" stroke-width="0.16" text-anchor="end">DAISHAN</text>
<text transform="translate(658.0 186.8) rotate(-90)" font-size="7" fill="#474747" stroke="#474747" stroke-width="0.16" text-anchor="end">YAOHAI</text>
<text transform="translate(666.7 186.8) rotate(-90)" font-size="7" fill="#474747" stroke="#474747" stroke-width="0.16" text-anchor="end">GAOCHUN</text>
<text transform="translate(675.3 186.8) rotate(-90)" font-size="7" fill="#474747" stroke="#474747" stroke-width="0.16" text-anchor="end">XIUZHOU</text>
<text x="1.0" y="13.4" font-size="10.5" font-weight="bold" fill="#111">(a)</text>
<text x="195.0" y="9.0" font-size="9" fill="#222" text-anchor="middle">Zone A</text>
<text x="445.0" y="9.0" font-size="9" fill="#222" text-anchor="middle">Zone B</text>
<text x="546.0" y="9.0" font-size="9" fill="#222" text-anchor="middle">Zone C</text>
<text x="632.5" y="9.0" font-size="9" fill="#222" text-anchor="middle">Zone D</text>
<text x="670.8" y="9.0" font-size="9" fill="#222" text-anchor="middle">Zone E</text>
<path d="M46.8 243.9 H70.3" stroke="#E9BD2E" stroke-width="1.9" fill="none"/>
<text x="72.2" y="246.9" font-size="8" fill="#474747">Industrial source</text>
<path d="M144.2 243.9 H167.6" stroke="#70B146" stroke-width="1.9" fill="none"/>
<text x="169.2" y="246.9" font-size="8" fill="#474747">Agricultural source</text>
<path d="M247.8 243.9 H271.8" stroke="#C5170F" stroke-width="1.9" fill="none"/>
<text x="273.7" y="246.9" font-size="8" fill="#474747">Urban living source</text>
<path d="M354.4 243.9 H378.2" stroke="#7d7d7d" stroke-width="1.9" fill="none"/>
<text x="380.0" y="246.9" font-size="8" fill="#474747">Centralized treatment source</text>
<text x="647.6" y="246.7" font-size="9" fill="#444">County</text>
<clipPath id="cpb"><rect x="32.9" y="275.90" width="646.8" height="170.3"/></clipPath>
<g fill="none" stroke-width="1.6" stroke-linejoin="round" stroke-linecap="round" clip-path="url(#cpb)">
<polyline stroke="#E9BD2E" points="35.0,287.3 37.1,279.2 39.2,278.4 41.3,278.4 43.4,277.1 45.5,279.7 47.6,277.1 49.7,277.9 51.8,276.4 53.9,276.4 56.0,277.1 58.1,277.5 60.2,287.3 62.4,291.6 64.5,277.1 66.6,283.4 68.7,277.1 70.8,280.1 72.9,277.5 75.0,284.4 77.1,282.4 79.2,278.1 81.3,277.1 83.4,277.9 85.5,276.4 87.6,276.4 89.7,276.8 91.8,276.8 94.0,276.4 96.1,279.2 98.2,276.4 100.3,276.4 102.4,276.8 104.5,276.4 106.6,276.8 108.7,279.2 110.8,276.4 112.9,277.1 115.0,277.3 117.1,289.2 119.2,290.1 121.3,283.5 123.5,281.8 125.6,286.5 127.7,276.9 129.8,284.8 131.9,290.1 134.0,285.5 136.1,281.8 138.2,279.6 140.3,280.0 142.4,281.3 144.5,279.6 146.6,283.5 148.7,282.2 150.8,292.1 153.0,281.8 155.1,283.5 157.2,277.3 159.3,287.4 161.4,283.5 163.5,281.5 165.6,278.3 167.7,280.5 169.8,279.2 171.9,289.7 174.0,279.6 176.1,284.4 178.2,293.1 180.3,290.1 182.5,276.4 184.6,276.4 186.7,276.4 188.8,276.4 190.9,276.4 193.0,276.4 195.1,277.9 197.2,277.4 199.3,291.6 201.4,288.8 203.5,277.3 205.6,276.4 207.7,276.4 209.8,278.9 212.0,289.4 214.1,276.9 216.2,277.3 218.3,279.6 220.4,278.6 222.5,287.4 224.6,288.1 226.7,290.1 228.8,277.3 230.9,287.4 233.0,277.3 235.1,280.9 237.2,282.6 239.3,280.2 241.5,281.8 243.6,284.4 245.7,280.2 247.8,277.3 249.9,277.3 252.0,276.9 254.1,277.9 256.2,277.3 258.3,277.2 260.4,277.2 262.5,277.3 264.6,291.0 266.7,282.2 268.9,277.6 271.0,282.9 273.1,287.4 275.2,283.9 277.3,277.6 279.4,282.9 281.5,280.2 283.6,277.9 285.7,284.8 287.8,285.8 289.9,289.7 292.0,279.6 294.1,288.4 296.2,282.9 298.4,286.5 300.5,284.4 302.6,282.2 304.7,276.9 306.8,292.7 308.9,278.9 311.0,279.6 313.1,279.2 315.2,276.9 317.3,277.6 319.4,286.5 321.5,288.4 323.6,291.0 325.8,282.8 327.9,285.5 330.0,279.6 332.1,280.2 334.2,280.5 336.3,283.1 338.4,290.5 340.5,286.1 342.6,278.6 344.7,287.4 346.8,287.1 348.9,284.2 351.0,279.6 353.1,282.9 355.2,279.6 357.4,277.3 359.5,277.6 361.6,280.9 363.7,278.3 365.8,283.1 367.9,278.9 370.0,284.2 372.1,282.2 374.2,277.6 376.3,278.1 378.4,276.4 380.5,276.4 382.6,278.8 384.8,280.8 386.9,277.5 389.0,282.8 391.1,279.7 393.2,279.7 395.3,277.5 397.4,289.3 399.5,288.4 401.6,291.9 403.7,287.3 405.8,285.4 407.9,283.4 410.0,286.0 412.1,291.3 414.2,286.3"/>
<polyline stroke="#E9BD2E" points="418.5,304.8 420.6,334.3 422.7,322.5 424.8,327.5 426.9,317.2 429.0,310.0 431.1,310.0 433.2,343.2 435.3,294.6 437.4,293.3 439.5,294.6 441.6,300.4 443.8,317.2 445.9,321.2 448.0,340.9 450.1,293.3 452.2,296.2 454.3,299.1 456.4,294.1 458.5,299.5 460.6,301.2 462.7,313.9 464.8,310.7 466.9,319.6 469.0,297.5 471.1,298.2 473.2,323.1 475.4,304.1 477.5,299.5 479.6,306.7 481.7,316.6 483.8,318.5 485.9,295.8 488.0,294.1 490.1,302.8 492.2,317.2 494.3,327.1 496.4,299.1 498.5,297.5 500.6,314.9 502.8,305.4 504.9,294.6 507.0,346.4 509.1,297.5 511.2,295.6 513.3,298.8 515.4,309.3 517.5,356.4 519.6,317.9 521.7,296.9 523.8,301.7 525.9,297.5 528.0,315.9 530.1,334.3 532.2,297.5 534.4,303.4 536.5,306.1 538.6,330.4 540.7,330.1 542.8,296.2 544.9,298.2 547.0,296.2 549.1,318.8 551.2,301.5 553.3,300.8 555.4,307.4 557.5,297.5 559.6,315.9 561.8,335.6 563.9,323.8 566.0,307.4 568.1,302.1 570.2,355.6 572.3,327.7 574.4,321.8 576.5,304.1 578.6,320.1 580.7,320.5 582.8,359.0 584.9,297.3 587.0,304.1 589.1,313.3 591.2,331.7 593.4,335.0 595.5,331.0 597.6,294.6 599.7,339.6 601.8,297.5 603.9,343.5 606.0,342.2 608.1,354.0 610.2,310.0 612.3,312.0 614.4,327.1 616.5,322.5 618.6,319.6 620.8,331.4 622.9,340.9 625.0,323.1 627.1,310.0 629.2,296.9 631.3,327.7 633.4,359.9 635.5,295.1"/>
<polyline stroke="#E9BD2E" points="639.7,402.5 641.8,418.1 643.9,424.6 646.0,365.9 648.1,443.3 650.2,437.2 652.4,363.7 654.5,427.9 656.6,382.4 658.7,429.6 660.8,387.3 662.9,431.4 665.0,360.2 667.1,375.2 669.2,390.5 671.3,384.3 673.4,361.9 675.5,372.4 677.6,370.2"/>
<polyline stroke="#C5170F" points="35.0,432.6 37.1,440.7 39.2,441.5 41.3,441.5 43.4,442.8 45.5,440.2 47.6,442.8 49.7,443.9 51.8,443.9 53.9,443.9 56.0,442.8 58.1,442.4 60.2,432.6 62.4,428.4 64.5,442.8 66.6,436.5 68.7,442.8 70.8,439.8 72.9,442.4 75.0,435.4 77.1,437.6 79.2,441.8 81.3,442.8 83.4,442.0 85.5,443.9 87.6,443.9 89.7,443.1 91.8,443.1 94.0,443.9 96.1,443.9 98.2,443.9 100.3,443.9 102.4,443.1 104.5,443.9 106.6,443.1 108.7,440.7 110.8,443.9 112.9,442.8 115.0,442.6 117.1,430.7 119.2,429.8 121.3,436.4 123.5,438.1 125.6,433.4 127.7,443.0 129.8,435.1 131.9,429.8 134.0,434.4 136.1,438.1 138.2,440.3 140.3,439.9 142.4,438.6 144.5,440.3 146.6,436.4 148.7,437.7 150.8,427.9 153.0,438.1 155.1,436.4 157.2,442.6 159.3,432.4 161.4,436.4 163.5,438.4 165.6,441.6 167.7,439.4 169.8,440.7 171.9,430.2 174.0,440.3 176.1,435.5 178.2,426.8 180.3,429.8 182.5,443.9 184.6,443.9 186.7,443.9 188.8,443.9 190.9,443.9 193.0,443.9 195.1,442.0 197.2,443.9 199.3,429.8 201.4,431.1 203.5,442.6 205.6,443.9 207.7,443.9 209.8,441.0 212.0,430.5 214.1,443.0 216.2,442.6 218.3,440.3 220.4,441.2 222.5,432.4 224.6,431.8 226.7,429.8 228.8,442.6 230.9,432.4 233.0,442.6 235.1,439.0 237.2,437.3 239.3,439.7 241.5,438.1 243.6,435.5 245.7,439.7 247.8,442.6 249.9,442.6 252.0,443.0 254.1,442.0 256.2,442.6 258.3,442.7 260.4,442.7 262.5,442.6 264.6,428.9 266.7,437.7 268.9,442.3 271.0,437.0 273.1,432.4 275.2,436.0 277.3,442.3 279.4,437.0 281.5,439.7 283.6,442.0 285.7,435.1 287.8,434.1 289.9,430.2 292.0,440.3 294.1,431.5 296.2,437.0 298.4,434.4 300.5,435.5 302.6,437.7 304.7,443.0 306.8,427.2 308.9,441.0 311.0,440.3 313.1,440.7 315.2,443.0 317.3,442.3 319.4,433.4 321.5,431.5 323.6,428.9 325.8,438.4 327.9,434.4 330.0,440.3 332.1,439.7 334.2,439.4 336.3,436.8 338.4,429.4 340.5,433.8 342.6,441.2 344.7,432.4 346.8,432.8 348.9,435.7 351.0,440.3 353.1,437.0 355.2,440.3 357.4,442.6 359.5,442.3 361.6,439.0 363.7,441.6 365.8,436.8 367.9,441.0 370.0,435.7 372.1,437.7 374.2,442.3 376.3,441.8 378.4,443.9 380.5,443.9 382.6,441.1 384.8,439.1 386.9,442.4 389.0,437.1 391.1,440.2 393.2,440.2 395.3,442.4 397.4,430.6 399.5,431.5 401.6,428.0 403.7,432.6 405.8,434.5 407.9,436.5 410.0,433.9 412.1,428.6 414.2,433.6"/>
<polyline stroke="#C5170F" points="418.5,415.1 420.6,385.6 422.7,397.4 424.8,392.4 426.9,402.7 429.0,409.9 431.1,409.9 433.2,376.7 435.3,425.3 437.4,426.6 439.5,425.3 441.6,419.5 443.8,402.7 445.9,398.7 448.0,379.0 450.1,426.6 452.2,423.7 454.3,420.8 456.4,425.8 458.5,420.4 460.6,418.7 462.7,406.0 464.8,409.2 466.9,400.3 469.0,422.4 471.1,421.7 473.2,396.8 475.4,415.8 477.5,420.4 479.6,413.2 481.7,403.3 483.8,401.4 485.9,424.1 488.0,425.8 490.1,417.1 492.2,402.7 494.3,392.8 496.4,420.8 498.5,422.4 500.6,405.0 502.8,414.5 504.9,425.3 507.0,373.5 509.1,422.4 511.2,424.4 513.3,421.1 515.4,410.6 517.5,363.5 519.6,402.0 521.7,423.0 523.8,418.2 525.9,422.4 528.0,404.0 530.1,385.6 532.2,422.4 534.4,416.5 536.5,413.8 538.6,389.5 540.7,389.8 542.8,423.7 544.9,421.7 547.0,423.7 549.1,401.1 551.2,418.4 553.3,419.1 555.4,412.5 557.5,422.4 559.6,404.0 561.8,384.3 563.9,396.1 566.0,412.5 568.1,417.8 570.2,364.3 572.3,392.2 574.4,398.1 576.5,415.8 578.6,399.8 580.7,399.4 582.8,360.9 584.9,422.6 587.0,415.8 589.1,406.6 591.2,388.2 593.4,384.9 595.5,388.9 597.6,425.3 599.7,380.3 601.8,422.4 603.9,376.4 606.0,377.7 608.1,365.9 610.2,409.9 612.3,407.9 614.4,392.8 616.5,397.4 618.6,400.3 620.8,388.5 622.9,379.0 625.0,396.8 627.1,409.9 629.2,423.0 631.3,392.2 633.4,360.0 635.5,424.8"/>
<polyline stroke="#C5170F" points="639.7,317.4 641.8,301.8 643.9,295.3 646.0,354.0 648.1,276.6 650.2,284.3 652.4,356.2 654.5,292.0 656.6,337.5 658.7,290.3 660.8,332.6 662.9,288.4 665.0,359.7 667.1,344.7 669.2,329.4 671.3,335.6 673.4,358.0 675.5,347.5 677.6,349.7"/>
<polyline stroke="#7d7d7d" points="35.0,443.9 37.1,443.9 39.2,443.9 41.3,443.9 43.4,443.9 45.5,443.9 47.6,443.9 49.7,442.0 51.8,443.9 53.9,443.9 56.0,443.9 58.1,443.9 60.2,443.9 62.4,443.9 64.5,443.9 66.6,443.9 68.7,443.9 70.8,443.9 72.9,443.9 75.0,443.9 77.1,443.9 79.2,443.9 81.3,443.9 83.4,443.9 85.5,443.9 87.6,443.9 89.7,443.9 91.8,443.9 94.0,443.9 96.1,440.7 98.2,443.9 100.3,443.9 102.4,443.9 104.5,443.9 106.6,443.9 108.7,443.9 110.8,443.9 112.9,443.9 115.0,443.9 117.1,443.9 119.2,443.9 121.3,443.9 123.5,443.9 125.6,443.9 127.7,443.9 129.8,443.9 131.9,443.9 134.0,443.9 136.1,443.9 138.2,443.9 140.3,443.9 142.4,443.9 144.5,443.9 146.6,443.9 148.7,443.9 150.8,443.9 153.0,443.9 155.1,443.9 157.2,443.9 159.3,443.9 161.4,443.9 163.5,443.9 165.6,443.9 167.7,443.9 169.8,443.9 171.9,443.9 174.0,443.9 176.1,443.9 178.2,443.9 180.3,443.9 182.5,443.9 184.6,443.9 186.7,443.9 188.8,443.9 190.9,443.9 193.0,443.9 195.1,443.9 197.2,442.5 199.3,442.4 201.4,443.9 203.5,443.9 205.6,443.9 207.7,443.9 209.8,443.9 212.0,443.9 214.1,443.9 216.2,443.9 218.3,443.9 220.4,443.9 222.5,443.9 224.6,443.9 226.7,443.9 228.8,443.9 230.9,443.9 233.0,443.9 235.1,443.9 237.2,443.9 239.3,443.9 241.5,443.9 243.6,443.9 245.7,443.9 247.8,443.9 249.9,443.9 252.0,443.9 254.1,443.9 256.2,443.9 258.3,443.9 260.4,443.9 262.5,443.9 264.6,443.9 266.7,443.9 268.9,443.9 271.0,443.9 273.1,443.9 275.2,443.9 277.3,443.9 279.4,443.9 281.5,443.9 283.6,443.9 285.7,443.9 287.8,443.9 289.9,443.9 292.0,443.9 294.1,443.9 296.2,443.9 298.4,442.9 300.5,443.9 302.6,443.9 304.7,443.9 306.8,443.9 308.9,443.9 311.0,443.9 313.1,443.9 315.2,443.9 317.3,443.9 319.4,443.9 321.5,443.9 323.6,443.9 325.8,442.7 327.9,443.9 330.0,443.9 332.1,443.9 334.2,443.9 336.3,443.9 338.4,443.9 340.5,443.9 342.6,443.9 344.7,443.9 346.8,443.9 348.9,443.9 351.0,443.9 353.1,443.9 355.2,443.9 357.4,443.9 359.5,443.9 361.6,443.9 363.7,443.9 365.8,443.9 367.9,443.9 370.0,443.9 372.1,443.9 374.2,443.9 376.3,443.9 378.4,443.9 380.5,443.9 382.6,443.9 384.8,443.9 386.9,443.9 389.0,443.9 391.1,443.9 393.2,443.9 395.3,443.9 397.4,443.9 399.5,443.9 401.6,443.9 403.7,443.9 405.8,443.9 407.9,443.9 410.0,443.9 412.1,443.9 414.2,443.9"/>
<polyline stroke="#7d7d7d" points="418.5,443.9 420.6,443.9 422.7,443.9 424.8,443.9 426.9,443.9 429.0,443.9 431.1,443.9 433.2,443.9 435.3,443.9 437.4,443.9 439.5,443.9 441.6,443.9 443.8,443.9 445.9,443.9 448.0,443.9 450.1,443.9 452.2,443.9 454.3,443.9 456.4,443.9 458.5,443.9 460.6,443.9 462.7,443.9 464.8,443.9 466.9,443.9 469.0,443.9 471.1,443.9 473.2,443.9 475.4,443.9 477.5,443.9 479.6,443.9 481.7,443.9 483.8,443.9 485.9,443.9 488.0,443.9 490.1,443.9 492.2,443.9 494.3,443.9 496.4,443.9 498.5,443.9 500.6,443.9 502.8,443.9 504.9,443.9 507.0,443.9 509.1,443.9 511.2,443.9 513.3,443.9 515.4,443.9 517.5,443.9 519.6,443.9 521.7,443.9 523.8,443.9 525.9,443.9 528.0,443.9 530.1,443.9 532.2,443.9 534.4,443.9 536.5,443.9 538.6,443.9 540.7,443.9 542.8,443.9 544.9,443.9 547.0,443.9 549.1,443.9 551.2,443.9 553.3,443.9 555.4,443.9 557.5,443.9 559.6,443.9 561.8,443.9 563.9,443.9 566.0,443.9 568.1,443.9 570.2,443.9 572.3,443.9 574.4,443.9 576.5,443.9 578.6,443.9 580.7,443.9 582.8,443.9 584.9,443.9 587.0,443.9 589.1,443.9 591.2,443.9 593.4,443.9 595.5,443.9 597.6,443.9 599.7,443.9 601.8,443.9 603.9,443.9 606.0,443.9 608.1,443.9 610.2,443.9 612.3,443.9 614.4,443.9 616.5,443.9 618.6,443.9 620.8,443.9 622.9,443.9 625.0,443.9 627.1,443.9 629.2,443.9 631.3,443.9 633.4,443.9 635.5,443.9"/>
<polyline stroke="#7d7d7d" points="639.7,443.9 641.8,443.9 643.9,443.9 646.0,443.9 648.1,443.9 650.2,442.4 652.4,443.9 654.5,443.9 656.6,443.9 658.7,443.9 660.8,443.9 662.9,443.9 665.0,443.9 667.1,443.9 669.2,443.9 671.3,443.9 673.4,443.9 675.5,443.9 677.6,443.9"/>
</g>
<path d="M32.90 276.40 H678.80" stroke="#4a4a4a" stroke-width="1.05" fill="none"/>
<path d="M678.50 275.90 V444.70" stroke="#888" stroke-width="1.05" fill="none"/>
<path d="M33.45 275.90 V444.70" stroke="#4a4a4a" stroke-width="1.05" fill="none"/>
<path d="M32.90 443.95 H679.02" stroke="#8a8a8a" stroke-width="1.50" fill="none"/>
<path d="M415.8 278.25 V443.7" stroke="#2e2e2e" stroke-width="0.95" stroke-dasharray="2.2 1.87" fill="none"/>
<path d="M637.5 278.25 V443.7" stroke="#2e2e2e" stroke-width="0.95" stroke-dasharray="2.2 1.87" fill="none"/>
<text x="28.8" y="445.7" font-size="7" fill="#474747" text-anchor="end">0</text>
<text x="28.8" y="429.0" font-size="7" fill="#474747" text-anchor="end">10</text>
<text x="28.8" y="412.2" font-size="7" fill="#474747" text-anchor="end">20</text>
<text x="28.8" y="395.5" font-size="7" fill="#474747" text-anchor="end">30</text>
<text x="28.8" y="378.8" font-size="7" fill="#474747" text-anchor="end">40</text>
<text x="28.8" y="362.0" font-size="7" fill="#474747" text-anchor="end">50</text>
<text x="28.8" y="345.3" font-size="7" fill="#474747" text-anchor="end">60</text>
<text x="28.8" y="328.6" font-size="7" fill="#474747" text-anchor="end">70</text>
<text x="28.8" y="311.9" font-size="7" fill="#474747" text-anchor="end">80</text>
<text x="28.8" y="295.1" font-size="7" fill="#474747" text-anchor="end">90</text>
<text x="28.8" y="278.4" font-size="7" fill="#474747" text-anchor="end">100</text>
<text transform="translate(12.0 360.5) rotate(-90)" font-size="9.25" fill="#3c3c3c" stroke="#3c3c3c" stroke-width="0.12" text-anchor="middle">Proportion/%</text>
<text transform="translate(36.8 447.9) rotate(-90)" font-size="7" fill="#474747" stroke="#474747" stroke-width="0.16" text-anchor="end">BAOSHAN</text>
<text transform="translate(45.2 447.9) rotate(-90)" font-size="7" fill="#474747" stroke="#474747" stroke-width="0.16" text-anchor="end">LIUHE</text>
<text transform="translate(53.7 447.9) rotate(-90)" font-size="7" fill="#474747" stroke="#474747" stroke-width="0.16" text-anchor="end">LIANGXI</text>
<text transform="translate(62.1 447.9) rotate(-90)" font-size="7" fill="#474747" stroke="#474747" stroke-width="0.16" text-anchor="end">GULOU</text>
<text transform="translate(70.5 447.9) rotate(-90)" font-size="7" fill="#474747" stroke="#474747" stroke-width="0.16" text-anchor="end">TONGSHAN</text>
<text transform="translate(78.9 447.9) rotate(-90)" font-size="7" fill="#474747" stroke="#474747" stroke-width="0.16" text-anchor="end">XINYI</text>
<text transform="translate(87.4 447.9) rotate(-90)" font-size="7" fill="#474747" stroke="#474747" stroke-width="0.16" text-anchor="end">XINBEI</text>
<text transform="translate(95.8 447.9) rotate(-90)" font-size="7" fill="#474747" stroke="#474747" stroke-width="0.16" text-anchor="end">HUQIU</text>
<text transform="translate(104.2 447.9) rotate(-90)" font-size="7" fill="#474747" stroke="#474747" stroke-width="0.16" text-anchor="end">CHANGSHU</text>
<text transform="translate(112.7 447.9) rotate(-90)" font-size="7" fill="#474747" stroke="#474747" stroke-width="0.16" text-anchor="end">TAICANG</text>
<text transform="translate(121.1 447.9) rotate(-90)" font-size="7" fill="#474747" stroke="#474747" stroke-width="0.16" text-anchor="end">HANAN</text>
<text transform="translate(129.5 447.9) rotate(-90)" font-size="7" fill="#474747" stroke="#474747" stroke-width="0.16" text-anchor="end">HAIMEN</text>
<text transform="translate(137.9 447.9) rotate(-90)" font-size="7" fill="#474747" stroke="#474747" stroke-width="0.16" text-anchor="end">HUAIYIN</text>
<text transform="translate(146.4 447.9) rotate(-90)" font-size="7" fill="#474747" stroke="#474747" stroke-width="0.16" text-anchor="end">XIANGSHUI</text>
<text transform="translate(154.8 447.9) rotate(-90)" font-size="7" fill="#474747" stroke="#474747" stroke-width="0.16" text-anchor="end">JIANHU</text>
<text transform="translate(163.2 447.9) rotate(-90)" font-size="7" fill="#474747" stroke="#474747" stroke-width="0.16" text-anchor="end">GANJIANG</text>
<text transform="translate(171.7 447.9) rotate(-90)" font-size="7" fill="#474747" stroke="#474747" stroke-width="0.16" text-anchor="end">HAILING</text>
<text transform="translate(180.1 447.9) rotate(-90)" font-size="7" fill="#474747" stroke="#474747" stroke-width="0.16" text-anchor="end">JIANGYAN</text>
<text transform="translate(188.5 447.9) rotate(-90)" font-size="7" fill="#474747" stroke="#474747" stroke-width="0.16" text-anchor="end">JIANGGAN</text>
<text transform="translate(197.0 447.9) rotate(-90)" font-size="7" fill="#474747" stroke="#474747" stroke-width="0.16" text-anchor="end">XIAOSHAN</text>
<text transform="translate(205.4 447.9) rotate(-90)" font-size="7" fill="#474747" stroke="#474747" stroke-width="0.16" text-anchor="end">JIANDE</text>
<text transform="translate(213.8 447.9) rotate(-90)" font-size="7" fill="#474747" stroke="#474747" stroke-width="0.16" text-anchor="end">JIANGBEI</text>
<text transform="translate(222.2 447.9) rotate(-90)" font-size="7" fill="#474747" stroke="#474747" stroke-width="0.16" text-anchor="end">NINGHAI</text>
<text transform="translate(230.7 447.9) rotate(-90)" font-size="7" fill="#474747" stroke="#474747" stroke-width="0.16" text-anchor="end">LOGNWAN</text>
<text transform="translate(239.1 447.9) rotate(-90)" font-size="7" fill="#474747" stroke="#474747" stroke-width="0.16" text-anchor="end">PINGYANG</text>
<text transform="translate(247.5 447.9) rotate(-90)" font-size="7" fill="#474747" stroke="#474747" stroke-width="0.16" text-anchor="end">RUIAN</text>
<text transform="translate(256.0 447.9) rotate(-90)" font-size="7" fill="#474747" stroke="#474747" stroke-width="0.16" text-anchor="end">JIASHAN</text>
<text transform="translate(264.4 447.9) rotate(-90)" font-size="7" fill="#474747" stroke="#474747" stroke-width="0.16" text-anchor="end">TONGXIANG</text>
<text transform="translate(272.8 447.9) rotate(-90)" font-size="7" fill="#474747" stroke="#474747" stroke-width="0.16" text-anchor="end">CHAGNXING</text>
<text transform="translate(281.2 447.9) rotate(-90)" font-size="7" fill="#474747" stroke="#474747" stroke-width="0.16" text-anchor="end">XINCHANG</text>
<text transform="translate(289.7 447.9) rotate(-90)" font-size="7" fill="#474747" stroke="#474747" stroke-width="0.16" text-anchor="end">WUCHENG</text>
<text transform="translate(298.1 447.9) rotate(-90)" font-size="7" fill="#474747" stroke="#474747" stroke-width="0.16" text-anchor="end">CHANGSHAN</text>
<text transform="translate(306.5 447.9) rotate(-90)" font-size="7" fill="#474747" stroke="#474747" stroke-width="0.16" text-anchor="end">DINGHAI</text>
<text transform="translate(315.0 447.9) rotate(-90)" font-size="7" fill="#474747" stroke="#474747" stroke-width="0.16" text-anchor="end">LUQIAO</text>
<text transform="translate(323.4 447.9) rotate(-90)" font-size="7" fill="#474747" stroke="#474747" stroke-width="0.16" text-anchor="end">XIANJU</text>
<text transform="translate(331.8 447.9) rotate(-90)" font-size="7" fill="#474747" stroke="#474747" stroke-width="0.16" text-anchor="end">JINYUN</text>
<text transform="translate(340.2 447.9) rotate(-90)" font-size="7" fill="#474747" stroke="#474747" stroke-width="0.16" text-anchor="end">QINGYUAN</text>
<text transform="translate(348.7 447.9) rotate(-90)" font-size="7" fill="#474747" stroke="#474747" stroke-width="0.16" text-anchor="end">FEIDONG</text>
<text transform="translate(357.1 447.9) rotate(-90)" font-size="7" fill="#474747" stroke="#474747" stroke-width="0.16" text-anchor="end">JIUJIANG</text>
<text transform="translate(365.5 447.9) rotate(-90)" font-size="7" fill="#474747" stroke="#474747" stroke-width="0.16" text-anchor="end">YUHUI</text>
<text transform="translate(374.0 447.9) rotate(-90)" font-size="7" fill="#474747" stroke="#474747" stroke-width="0.16" text-anchor="end">BAGOGNSHAN</text>
<text transform="translate(382.4 447.9) rotate(-90)" font-size="7" fill="#474747" stroke="#474747" stroke-width="0.16" text-anchor="end">YUSHAN</text>
<text transform="translate(390.8 447.9) rotate(-90)" font-size="7" fill="#474747" stroke="#474747" stroke-width="0.16" text-anchor="end">YIAN</text>
<text transform="translate(399.2 447.9) rotate(-90)" font-size="7" fill="#474747" stroke="#474747" stroke-width="0.16" text-anchor="end">WANGJIANG</text>
<text transform="translate(407.7 447.9) rotate(-90)" font-size="7" fill="#474747" stroke="#474747" stroke-width="0.16" text-anchor="end">GUICHI</text>
<text transform="translate(416.1 447.9) rotate(-90)" font-size="7" fill="#474747" stroke="#474747" stroke-width="0.16" text-anchor="end">JIXI</text>
<text transform="translate(424.5 447.9) rotate(-90)" font-size="7" fill="#474747" stroke="#474747" stroke-width="0.16" text-anchor="end">PUDONG</text>
<text transform="translate(433.0 447.9) rotate(-90)" font-size="7" fill="#474747" stroke="#474747" stroke-width="0.16" text-anchor="end">XUANWU</text>
<text transform="translate(441.4 447.9) rotate(-90)" font-size="7" fill="#474747" stroke="#474747" stroke-width="0.16" text-anchor="end">LISHUI</text>
<text transform="translate(449.8 447.9) rotate(-90)" font-size="7" fill="#474747" stroke="#474747" stroke-width="0.16" text-anchor="end">GUANYUN</text>
<text transform="translate(458.2 447.9) rotate(-90)" font-size="7" fill="#474747" stroke="#474747" stroke-width="0.16" text-anchor="end">JINHU</text>
<text transform="translate(466.7 447.9) rotate(-90)" font-size="7" fill="#474747" stroke="#474747" stroke-width="0.16" text-anchor="end">GAOYOU</text>
<text transform="translate(475.1 447.9) rotate(-90)" font-size="7" fill="#474747" stroke="#474747" stroke-width="0.16" text-anchor="end">JURONG</text>
<text transform="translate(483.5 447.9) rotate(-90)" font-size="7" fill="#474747" stroke="#474747" stroke-width="0.16" text-anchor="end">SIYANG</text>
<text transform="translate(492.0 447.9) rotate(-90)" font-size="7" fill="#474747" stroke="#474747" stroke-width="0.16" text-anchor="end">WUYI</text>
<text transform="translate(500.4 447.9) rotate(-90)" font-size="7" fill="#474747" stroke="#474747" stroke-width="0.16" text-anchor="end">DONGYANG</text>
<text transform="translate(508.8 447.9) rotate(-90)" font-size="7" fill="#474747" stroke="#474747" stroke-width="0.16" text-anchor="end">SHENGSI</text>
<text transform="translate(517.2 447.9) rotate(-90)" font-size="7" fill="#474747" stroke="#474747" stroke-width="0.16" text-anchor="end">SHUSHAN</text>
<text transform="translate(525.7 447.9) rotate(-90)" font-size="7" fill="#474747" stroke="#474747" stroke-width="0.16" text-anchor="end">WUWEI</text>
<text transform="translate(534.1 447.9) rotate(-90)" font-size="7" fill="#474747" stroke="#474747" stroke-width="0.16" text-anchor="end">WUHE</text>
<text transform="translate(542.5 447.9) rotate(-90)" font-size="7" fill="#474747" stroke="#474747" stroke-width="0.16" text-anchor="end">BOWANG</text>
<text transform="translate(551.0 447.9) rotate(-90)" font-size="7" fill="#474747" stroke="#474747" stroke-width="0.16" text-anchor="end">XIANGSHAN</text>
<text transform="translate(559.4 447.9) rotate(-90)" font-size="7" fill="#474747" stroke="#474747" stroke-width="0.16" text-anchor="end">HUAINING</text>
<text transform="translate(567.8 447.9) rotate(-90)" font-size="7" fill="#474747" stroke="#474747" stroke-width="0.16" text-anchor="end">TONGCHENG</text>
<text transform="translate(576.2 447.9) rotate(-90)" font-size="7" fill="#474747" stroke="#474747" stroke-width="0.16" text-anchor="end">NANJIAO</text>
<text transform="translate(584.7 447.9) rotate(-90)" font-size="7" fill="#474747" stroke="#474747" stroke-width="0.16" text-anchor="end">YINGZHOU</text>
<text transform="translate(593.1 447.9) rotate(-90)" font-size="7" fill="#474747" stroke="#474747" stroke-width="0.16" text-anchor="end">FUNAN</text>
<text transform="translate(601.5 447.9) rotate(-90)" font-size="7" fill="#474747" stroke="#474747" stroke-width="0.16" text-anchor="end">SHANGSHAN</text>
<text transform="translate(610.0 447.9) rotate(-90)" font-size="7" fill="#474747" stroke="#474747" stroke-width="0.16" text-anchor="end">JINAN</text>
<text transform="translate(618.4 447.9) rotate(-90)" font-size="7" fill="#474747" stroke="#474747" stroke-width="0.16" text-anchor="end">HUOSHAN</text>
<text transform="translate(626.8 447.9) rotate(-90)" font-size="7" fill="#474747" stroke="#474747" stroke-width="0.16" text-anchor="end">SHITAI</text>
<text transform="translate(635.2 447.9) rotate(-90)" font-size="7" fill="#474747" stroke="#474747" stroke-width="0.16" text-anchor="end">JINDE</text>
<text transform="translate(643.7 447.9) rotate(-90)" font-size="7" fill="#474747" stroke="#474747" stroke-width="0.16" text-anchor="end">CHANGNING</text>
<text transform="translate(652.1 447.9) rotate(-90)" font-size="7" fill="#474747" stroke="#474747" stroke-width="0.16" text-anchor="end">YANGPU</text>
<text transform="translate(660.5 447.9) rotate(-90)" font-size="7" fill="#474747" stroke="#474747" stroke-width="0.16" text-anchor="end">JINGHU</text>
<text transform="translate(669.0 447.9) rotate(-90)" font-size="7" fill="#474747" stroke="#474747" stroke-width="0.16" text-anchor="end">SHEXIAN</text>
<text transform="translate(677.4 447.9) rotate(-90)" font-size="7" fill="#474747" stroke="#474747" stroke-width="0.16" text-anchor="end">JINZHAI</text>
<text x="1.0" y="272.7" font-size="10.5" font-weight="bold" fill="#111">(b)</text>
<text x="203.5" y="271.4" font-size="9" fill="#222" text-anchor="middle">Zone F</text>
<text x="525.0" y="271.4" font-size="9" fill="#222" text-anchor="middle">Zone G</text>
<text x="659.0" y="271.4" font-size="9" fill="#222" text-anchor="middle">Zone H</text>
<path d="M58.2 505.9 H81.3" stroke="#E9BD2E" stroke-width="1.9" fill="none"/>
<text x="83.2" y="508.9" font-size="8" fill="#474747">Industrial source</text>
<path d="M153.8 505.9 H176.9" stroke="#C5170F" stroke-width="1.9" fill="none"/>
<text x="178.7" y="508.9" font-size="8" fill="#474747">Urban living source</text>
<path d="M259.5 505.9 H282.5" stroke="#7d7d7d" stroke-width="1.9" fill="none"/>
<text x="284.4" y="508.9" font-size="8" fill="#474747">Centralized treatment source</text>
<text x="647.6" y="505.0" font-size="9" fill="#444">County</text>
</svg>
</body></html>
